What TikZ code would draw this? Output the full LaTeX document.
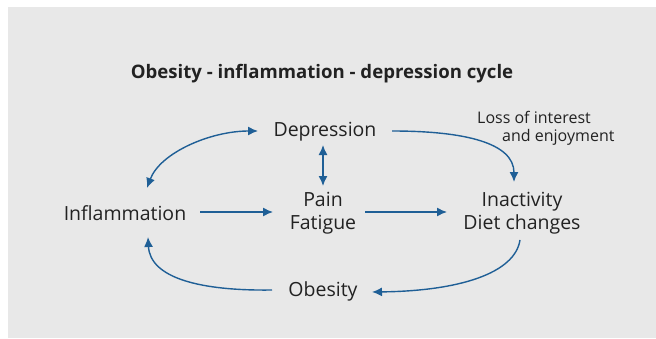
\documentclass[tikz,border=0pt]{standalone}
\usepackage{fontspec}
\setmainfont{Open Sans}
\usetikzlibrary{arrows.meta}
\definecolor{bgc}{HTML}{E8E8E8}
\definecolor{arr}{HTML}{1F5F96}
\definecolor{txt}{HTML}{222222}
\begin{document}
\begin{tikzpicture}[x=1pt,y=1pt,
  lbl/.style={text=txt,font=\fontsize{19.5}{23}\selectfont,align=center,inner sep=0pt},
  con/.style={draw=arr,line width=1.4pt,-{Latex[length=10pt,width=9pt]}},
  con2/.style={draw=arr,line width=1.4pt,{Latex[length=10pt,width=9pt]}-{Latex[length=10pt,width=9pt]}}]
\useasboundingbox (0,0) rectangle (656,338);
\fill[bgc] (8,0) rectangle (656,331);
\node[text=txt,font=\fontsize{18.6}{22}\selectfont\bfseries] (title) at (322,264) {Obesity - inflammation - depression cycle};
\node[lbl] (dep) at (325,206) {Depression};
\node[lbl] (pain) at (323,125) {Pain\\Fatigue};
\node[lbl] (infl) at (125,125) {Inflammation};
\node[lbl] (inact) at (522,125) {Inactivity\\Diet changes};
\node[lbl] (obes) at (323,47) {Obesity};
\node[text=txt,font=\fontsize{16}{18}\selectfont,align=left,inner sep=0pt,anchor=west] (loss) at (477,210) {Loss of interest\\\hspace{25pt}and enjoyment};
% connector end points
\coordinate (inflE) at (200,126);
\coordinate (painW) at (273,126);
\coordinate (painE) at (365,126);
\coordinate (inactW) at (447,126);
\coordinate (depS) at (323,193);
\coordinate (painN) at (323,152);
\coordinate (depE) at (392,207);
\coordinate (inactN) at (514,156);
\coordinate (inactS) at (520,98);
\coordinate (obesE) at (372,46);
\coordinate (obesW) at (272,48);
\coordinate (inflS) at (148,101);
\coordinate (inflN) at (147,150);
\coordinate (depW) at (258,207);
\draw[con] (inflE) -- (painW);
\draw[con] (painE) -- (inactW);
\draw[con2] (depS) -- (painN);
\draw[con] (depE) .. controls (465,207) and (514,195) .. (inactN);
\draw[con] (inactS) .. controls (515,65) and (460,47) .. (obesE);
\draw[con] (obesW) .. controls (200,47) and (150,60) .. (inflS);
\draw[con2] (inflN) .. controls (160,185) and (210,207) .. (depW);
\end{tikzpicture}
\end{document}
